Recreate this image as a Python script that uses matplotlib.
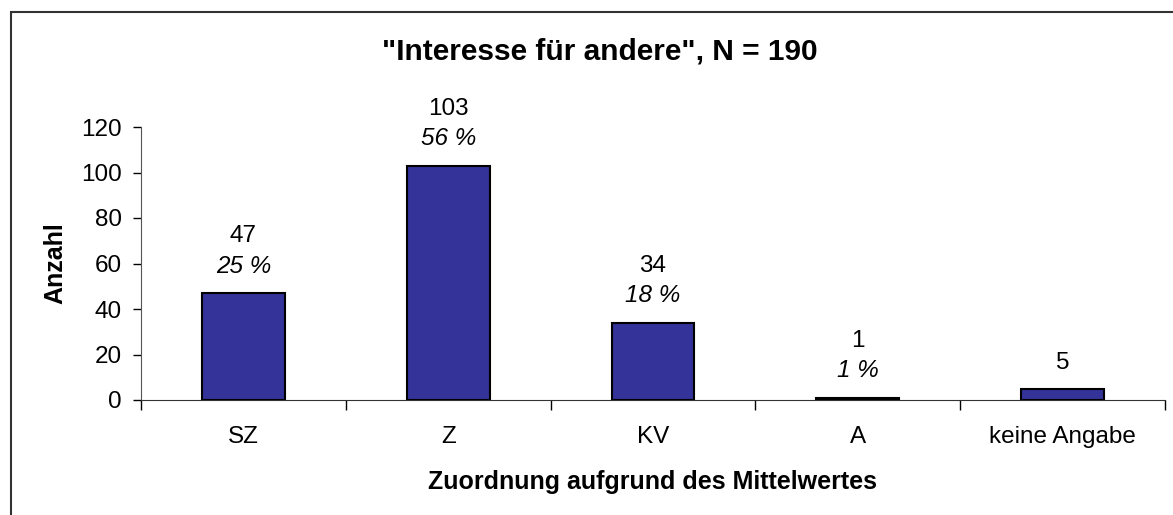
import numpy as np
import matplotlib
matplotlib.use("Agg")
import matplotlib.pyplot as plt
from matplotlib.patches import Rectangle

# ── Data ──────────────────────────────────────────────────────────────────────
categories = ["SZ", "Z", "KV", "A", "keine Angabe"]
counts     = [47, 103, 34, 1, 5]
percents   = ["25 %", "56 %", "18 %", "1 %", None]
y_ticks    = [0, 20, 40, 60, 80, 100, 120]

plt.rcParams["font.family"] = ["Liberation Sans", "DejaVu Sans"]

W, H = 1173, 515
FS = 17.5
fig = plt.figure(figsize=(W / 100, H / 100), dpi=100)
fig.patch.set_facecolor("white")

# outer chart frame (right/bottom edges run off the picture)
fig.patches.append(Rectangle((10.5 / W, -0.05), 1.2, (H - 11.5) / H + 0.05,
                             transform=fig.transFigure, fill=False,
                             edgecolor="#333333", linewidth=1.5))

ax = fig.add_axes([141 / W, (H - 400) / H, (1165 - 141) / W, (400 - 127) / H])
x = np.arange(len(categories))
ax.bar(x, counts, width=0.405, color="#333399", edgecolor="black", linewidth=1.5, zorder=3)

ax.set_xlim(-0.5, len(categories) - 0.5)
ax.set_ylim(0, 120)
ax.set_yticks(y_ticks)
ax.tick_params(axis="y", direction="out", length=6, width=1, labelsize=FS, pad=8)

# category labels centred, tick marks between categories
ax.set_xticks(x)
ax.set_xticklabels(categories, fontsize=FS)
ax.tick_params(axis="x", length=0, pad=19)
ax.set_xticks(np.arange(-0.5, len(categories)), minor=True)
ax.tick_params(axis="x", which="minor", direction="out", length=7, width=1)

for s in ["top", "right"]:
    ax.spines[s].set_visible(False)
ax.spines["left"].set_color("#555555")
ax.spines["bottom"].set_color("#333333")

# value labels
for xi, c, p in zip(x, counts, percents):
    if p is not None:
        ax.annotate(str(c), (xi, c), xytext=(0, 57), textcoords="offset pixels",
                    ha="center", va="center", fontsize=FS, annotation_clip=False)
        ax.annotate(p, (xi, c), xytext=(0, 27), textcoords="offset pixels",
                    ha="center", va="center", fontsize=FS, style="italic",
                    annotation_clip=False)
    else:
        ax.annotate(str(c), (xi, c), xytext=(0, 26), textcoords="offset pixels",
                    ha="center", va="center", fontsize=FS, annotation_clip=False)

fig.text(600 / W, 1 - 51 / H, "\"Interesse für andere\", N = 190",
         ha="center", va="center", fontsize=21.5, fontweight="bold")
fig.text(653 / W, 1 - 482 / H, "Zuordnung aufgrund des Mittelwertes",
         ha="center", va="center", fontsize=18, fontweight="bold")
fig.text(55 / W, 1 - 263 / H, "Anzahl", ha="center", va="center",
         rotation=90, fontsize=18, fontweight="bold")

fig.savefig("out.png", dpi=100)
